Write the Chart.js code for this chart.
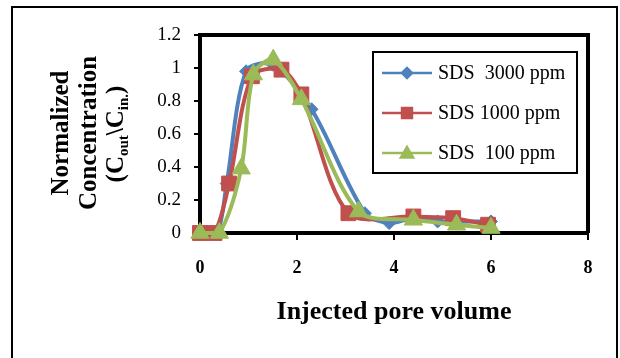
<!DOCTYPE html>
<html>
<head>
<meta charset="utf-8">
<script src="https://cdn.jsdelivr.net/npm/chart.js@4.4.1/dist/chart.umd.min.js"></script>
<style>
  html, body { margin: 0; padding: 0; background: #fff; }
  #wrap { position: relative; width: 620px; height: 358px; }
</style>
</head>
<body>
<div id="wrap"><canvas id="breakthroughChart" width="620" height="358"></canvas></div>
<script>
"use strict";

// series labels (legend order)
const seriesNames = ['SDS  3000 ppm', 'SDS 1000 ppm', 'SDS  100 ppm'];

// injected pore volume / normalized concentration per surfactant level
const pv3000 = [0, 0.35, 0.55, 0.95, 1.5, 2.3, 3.4, 3.9, 4.4, 4.9, 6.0];
const conc3000 = [0, 0, 0.3, 0.98, 1.02, 0.75, 0.12, 0.06, 0.09, 0.07, 0.07];

const pv1000 = [0, 0.3, 0.6, 1.07, 1.68, 2.09, 3.06, 4.4, 5.22, 5.94];
const conc1000 = [0, 0, 0.3, 0.95, 0.99, 0.84, 0.12, 0.1, 0.09, 0.05];

const pv100 = [0, 0.4, 0.85, 1.1, 1.51, 2.09, 3.27, 4.4, 5.29, 6.0];
const conc100 = [0, 0, 0.39, 0.96, 1.05, 0.81, 0.13, 0.08, 0.05, 0.03];

const xTickLabels = ['0', '2', '4', '6', '8'];
const yTickLabels = ['0', '0.2', '0.4', '0.6', '0.8', '1', '1.2'];

const seriesColors = ['#4F81BD', '#C0504D', '#9BBB59'];
const seriesMarkers = ['rectRot', 'rect', 'triangle'];

const serif = "'Liberation Serif', 'Times New Roman', serif";

function toPoints(xs, ys) {
    return xs.map((x, i) => ({ x, y: ys[i] }));
}

function makeDataset(idx, xs, ys, radius, order) {
    return {
        label: seriesNames[idx],
        data: toPoints(xs, ys),
        borderColor: seriesColors[idx],
        backgroundColor: seriesColors[idx],
        pointStyle: seriesMarkers[idx],
        pointRadius: radius,
        pointBorderWidth: 1,
        borderWidth: 4,
        tension: 0.3,
        clip: false,
        order
    };
}

// outer frame plus top/right edges of the plot box
const framePlugin = {
    id: 'frame',
    beforeDraw(chart) {
        const ctx = chart.ctx;
        ctx.save();
        ctx.fillStyle = '#fff';
        ctx.fillRect(0, 0, chart.width, chart.height);
        ctx.strokeStyle = '#000';
        ctx.lineWidth = 2;
        ctx.strokeRect(12, 7, 605, 360);
        ctx.restore();
    },
    beforeDatasetsDraw(chart) {
        const { ctx, chartArea } = chart;
        ctx.save();
        ctx.strokeStyle = '#000';
        ctx.lineWidth = 4;
        ctx.beginPath();
        ctx.moveTo(chartArea.left, chartArea.top);
        ctx.lineTo(chartArea.right, chartArea.top);
        ctx.lineTo(chartArea.right, chartArea.bottom);
        ctx.stroke();
        ctx.restore();
    }
};

// three-line rotated y title with subscripts
function drawRotatedLine(ctx, cx, cy, parts) {
    const mainFont = 'bold 25px ' + serif;
    const subFont = 'bold 15px ' + serif;
    ctx.save();
    ctx.translate(cx, cy);
    ctx.rotate(-Math.PI / 2);
    ctx.textBaseline = 'middle';
    ctx.textAlign = 'left';
    let total = 0;
    parts.forEach(p => {
        ctx.font = p.sub ? subFont : mainFont;
        total += ctx.measureText(p.text).width;
    });
    let x = -total / 2;
    parts.forEach(p => {
        ctx.font = p.sub ? subFont : mainFont;
        ctx.fillText(p.text, x, p.sub ? 7 : 0);
        x += ctx.measureText(p.text).width;
    });
    ctx.restore();
}

const yTitlePlugin = {
    id: 'yTitle',
    afterDraw(chart) {
        const ctx = chart.ctx;
        ctx.fillStyle = '#000';
        drawRotatedLine(ctx, 62, 133, [{ text: 'Normalized' }]);
        drawRotatedLine(ctx, 90, 133, [{ text: 'Concentration' }]);
        drawRotatedLine(ctx, 117, 134, [
            { text: '(C' }, { text: 'out', sub: true },
            { text: '\\C' }, { text: 'in.', sub: true },
            { text: ')' }
        ]);
    }
};

// boxed legend inside the plot
const legendPlugin = {
    id: 'boxLegend',
    afterDraw(chart) {
        const ctx = chart.ctx;
        const box = { left: 373, top: 52, right: 577, bottom: 173 };
        ctx.save();
        ctx.fillStyle = '#fff';
        ctx.fillRect(box.left, box.top, box.right - box.left, box.bottom - box.top);
        ctx.strokeStyle = '#000';
        ctx.lineWidth = 2;
        ctx.strokeRect(box.left, box.top, box.right - box.left, box.bottom - box.top);
        const rowY = [73, 113, 153];
        const legendRadius = [5, 7, 7];
        chart.data.datasets.forEach((ds, i) => {
            const y = rowY[i];
            ctx.strokeStyle = ds.borderColor;
            ctx.lineWidth = 2.5;
            ctx.beginPath();
            ctx.moveTo(382, y);
            ctx.lineTo(432, y);
            ctx.stroke();
            ctx.fillStyle = ds.backgroundColor;
            Chart.helpers.drawPoint(ctx, {
                pointStyle: ds.pointStyle,
                radius: legendRadius[i],
                borderWidth: 1,
                rotation: 0
            }, 407, i === 2 ? y + 1 : y);
            ctx.fillStyle = '#000';
            ctx.font = '20px ' + serif;
            ctx.textBaseline = 'middle';
            ctx.textAlign = 'left';
            ctx.fillText(ds.label, 438, y + 1);
        });
        ctx.restore();
    }
};

const ctx = document.getElementById('breakthroughChart').getContext('2d');

new Chart(ctx, {
    type: 'line',
    data: {
        datasets: [
            makeDataset(0, pv3000, conc3000, 6.5, 2),
            makeDataset(1, pv1000, conc1000, 10.5, 1),
            makeDataset(2, pv100, conc100, 10.5, 0)
        ]
    },
    options: {
        responsive: false,
        animation: false,
        devicePixelRatio: 1,
        layout: { padding: { left: 0, top: 35, right: 32, bottom: 0 } },
        plugins: {
            legend: { display: false },
            tooltip: { enabled: false }
        },
        scales: {
            x: {
                type: 'linear',
                min: 0,
                max: 8,
                afterFit(scale) { scale.height = 125; },
                ticks: {
                    stepSize: 2,
                    color: '#000',
                    padding: 18,
                    font: { family: serif, size: 18, weight: 'bold' },
                    callback: (v, i) => xTickLabels[i]
                },
                grid: {
                    drawOnChartArea: false,
                    drawTicks: true,
                    tickLength: 7,
                    color: '#000',
                    lineWidth: 2
                },
                border: { display: true, color: '#000', width: 4 },
                title: {
                    display: true,
                    text: 'Injected pore volume',
                    color: '#000',
                    font: { family: serif, size: 26, weight: 'bold' },
                    padding: { top: 0, bottom: 30 }
                }
            },
            y: {
                min: 0,
                max: 1.2,
                afterFit(scale) { scale.width = 200; },
                ticks: {
                    stepSize: 0.2,
                    color: '#000',
                    padding: 13,
                    font: { family: serif, size: 19 },
                    callback: (v, i) => yTickLabels[i]
                },
                grid: {
                    drawOnChartArea: false,
                    drawTicks: true,
                    tickLength: 6,
                    color: '#000',
                    lineWidth: 2
                },
                border: { display: true, color: '#000', width: 4 }
            }
        }
    },
    plugins: [framePlugin, yTitlePlugin, legendPlugin]
});
</script>
</body>
</html>
